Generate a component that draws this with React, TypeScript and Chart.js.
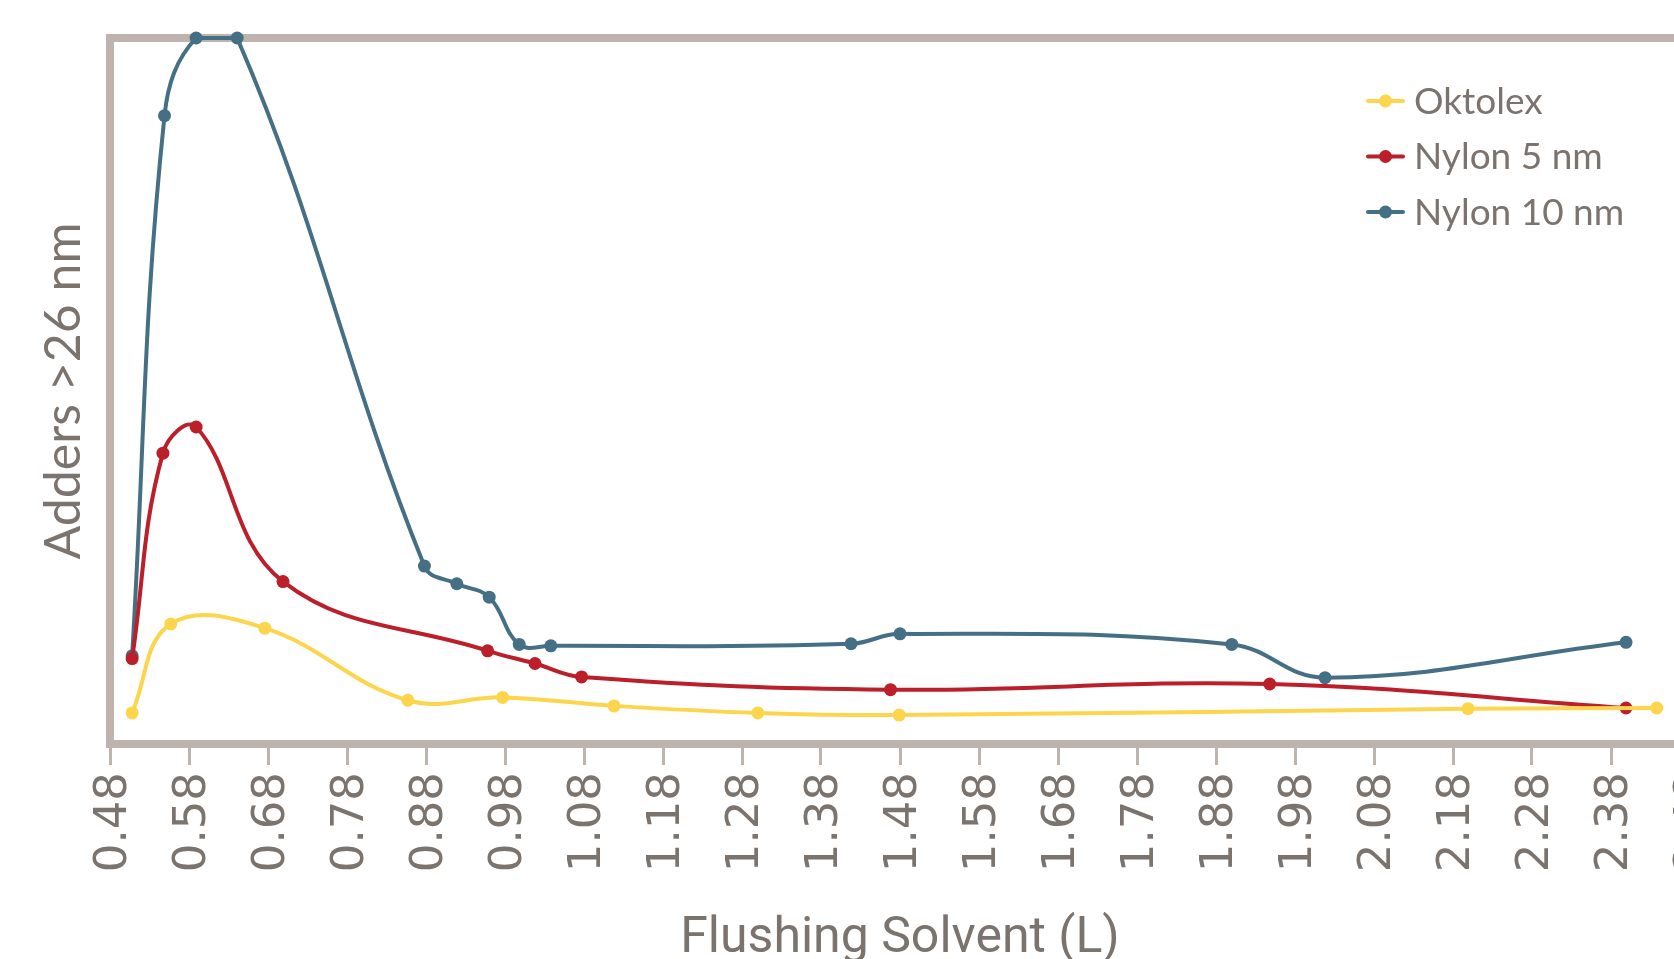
import React, { useEffect, useRef } from "react";
import { Chart, registerables } from "chart.js";

Chart.register(...registerables);

// ---- data ----
const xTicks = [0.48, 0.58, 0.68, 0.78, 0.88, 0.98, 1.08, 1.18, 1.28, 1.38, 1.48, 1.58, 1.68, 1.78, 1.88, 1.98, 2.08, 2.18, 2.28, 2.38, 2.48];

const seriesNames = ["Oktolex", "Nylon 5 nm", "Nylon 10 nm"];
const seriesColors = ["#fdd54c", "#bb1f2a", "#456f84"];

const oktolexX = [0.508, 0.557, 0.676, 0.857, 0.977, 1.118, 1.3, 1.479, 2.199, 2.438];
const oktolexY = [4.4, 17.0, 16.4, 6.2, 6.6, 5.4, 4.4, 4.1, 5.0, 5.1];

const nylon5X = [0.508, 0.547, 0.589, 0.699, 0.958, 1.018, 1.077, 1.468, 1.948, 2.399];
const nylon5Y = [12.1, 41.2, 44.9, 23.0, 13.2, 11.4, 9.5, 7.7, 8.5, 5.1];

const nylon10X = [0.508, 0.549, 0.589, 0.641, 0.878, 0.919, 0.96, 0.998, 1.038, 1.418, 1.48, 1.9, 2.018, 2.399];
const nylon10Y = [12.5, 89.0, 100, 100, 25.2, 22.7, 20.8, 14.1, 13.9, 14.2, 15.6, 14.1, 9.4, 14.4];

const xTitle = "Flushing Solvent (L)";
const yTitle = "Adders >26 nm";

const GRAY_TEXT = "#7b736e";
const FRAME = "#bfb4ad";

const zip = (xs: number[], ys: number[]) => xs.map((x, i) => ({ x, y: ys[i] }));

const framePlugin = {
  id: "frame",
  beforeDatasetsDraw(chart: any) {
    const { ctx, chartArea } = chart;
    ctx.save();
    ctx.strokeStyle = FRAME;
    ctx.lineWidth = 8;
    ctx.strokeRect(chartArea.left, chartArea.top, chartArea.right - chartArea.left, chartArea.bottom - chartArea.top);
    ctx.restore();
  },
};

const legendPlugin = {
  id: "customLegend",
  afterDatasetsDraw(chart: any) {
    const ctx = chart.ctx;
    chart.data.datasets.forEach((ds: any, i: number) => {
      const y = 101 + i * 55.5;
      ctx.save();
      ctx.strokeStyle = ds.borderColor;
      ctx.lineWidth = 4;
      ctx.lineCap = "round";
      ctx.beginPath();
      ctx.moveTo(1368, y);
      ctx.lineTo(1403, y);
      ctx.stroke();
      ctx.fillStyle = ds.borderColor;
      ctx.beginPath();
      ctx.arc(1385.5, y, 6.5, 0, Math.PI * 2);
      ctx.fill();
      ctx.font = "37px Lato";
      ctx.fillStyle = GRAY_TEXT;
      ctx.textBaseline = "middle";
      ctx.fillText(ds.label, 1414, y + 1);
      ctx.restore();
    });
  },
};

export default function App() {
  const ref = useRef<HTMLCanvasElement | null>(null);

  useEffect(() => {
    document.documentElement.style.overflow = "hidden";
    document.body.style.overflow = "hidden";
    const canvas = ref.current;
    if (!canvas) return;
    const xs = [oktolexX, nylon5X, nylon10X];
    const ys = [oktolexY, nylon5Y, nylon10Y];
    const chart = new Chart(canvas, {
      type: "line",
      data: {
        datasets: seriesNames.map((name, i) => ({
          label: name,
          data: zip(xs[i], ys[i]),
          borderColor: seriesColors[i],
          backgroundColor: seriesColors[i],
          pointBackgroundColor: seriesColors[i],
          pointBorderWidth: 0,
          pointRadius: 6.5,
          borderWidth: 4,
          tension: 0.4,
          fill: false,
          clip: false as any,
        })),
      },
      options: {
        animation: false,
        responsive: false,
        devicePixelRatio: 1,
        layout: { padding: { top: 38, left: 0, right: 0, bottom: 0 } },
        plugins: { legend: { display: false }, tooltip: { enabled: false } },
        scales: {
          x: {
            type: "linear",
            min: xTicks[0],
            max: xTicks[xTicks.length - 1],
            afterBuildTicks: (scale: any) => {
              scale.ticks = xTicks.map((v) => ({ value: v }));
            },
            afterFit: (scale: any) => {
              scale.height = 256;
              scale.paddingRight = 30;
              scale.paddingLeft = 0;
            },
            grid: {
              drawOnChartArea: false,
              drawTicks: true,
              tickLength: 21,
              color: FRAME,
              lineWidth: 3,
            },
            border: { display: false },
            ticks: {
              autoSkip: false,
              minRotation: 90,
              maxRotation: 90,
              padding: 7,
              labelOffset: 4,
              color: GRAY_TEXT,
              font: { family: "'DejaVu Sans'", size: 45 },
              callback: (v: any) => Number(v).toFixed(2),
            },
            title: {
              display: true,
              text: xTitle,
              color: GRAY_TEXT,
              font: { family: "Roboto, sans-serif", size: 50 },
              padding: { top: 0, bottom: 31 },
            },
          },
          y: {
            type: "linear",
            min: 0,
            max: 100,
            afterFit: (scale: any) => {
              scale.width = 110;
            },
            grid: { display: false },
            border: { display: false },
            ticks: { display: false },
            title: {
              display: true,
              text: yTitle,
              color: GRAY_TEXT,
              font: { family: "Lato", size: 50 },
              padding: { top: 34, bottom: 0 },
            },
          },
        },
      },
      plugins: [framePlugin, legendPlugin],
    } as any);
    return () => chart.destroy();
  }, []);

  return (
    <div style={{ position: "fixed", left: 0, top: 0, width: 1720, height: 1000, background: "#fff" }}>
      <canvas ref={ref} width={1720} height={1000} style={{ width: 1720, height: 1000, display: "block" }} />
    </div>
  );
}
